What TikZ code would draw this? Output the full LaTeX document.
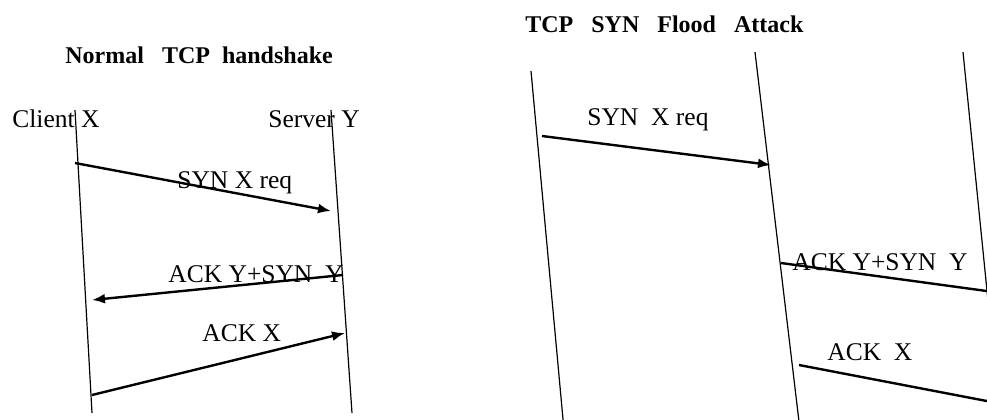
\documentclass[tikz,border=0pt]{standalone}
\usepackage{fontspec}
\setmainfont{Liberation Serif}
\usetikzlibrary{arrows.meta}

\begin{document}
\begin{tikzpicture}[x=0.5pt,y=-0.5pt,>={Latex[length=6.5pt,width=5pt]},
  life/.style={line width=0.6pt},
  msg/.style={line width=1.2pt},
  lbl/.style={anchor=base west,inner sep=0pt,font=\fontsize{12.75}{15}\selectfont},
  ttl/.style={anchor=base west,inner sep=0pt,font=\fontsize{12}{14}\selectfont\bfseries}]
\useasboundingbox (0,0) rectangle (987,419);
\clip (0,0) rectangle (987,419);
% normal handshake
\node[ttl] (titleNormal) at (65,63) {Normal\ \ \ TCP\ \ handshake};
\node[lbl] (lblClient) at (12,127) {Client X};
\node[lbl] (lblServer) at (268,127) {Server Y};
\coordinate (cliTop) at (75,110);
\coordinate (cliBot) at (92,413);
\coordinate (srvTop) at (331,110);
\coordinate (srvBot) at (352,413);
\draw[life] (cliTop) -- (cliBot);
\draw[life] (srvTop) -- (srvBot);
\coordinate (synFrom) at (75,163);
\coordinate (synTo) at (331,211);
\coordinate (ackSynFrom) at (343,275);
\coordinate (ackSynTo) at (92,300);
\coordinate (ackFrom) at (92,395);
\coordinate (ackTo) at (345,333);
\draw[msg,->] (synFrom) -- (synTo);
\draw[msg,->] (ackSynFrom) -- (ackSynTo);
\draw[msg,->] (ackFrom) -- (ackTo);
\node[lbl] (lblSyn) at (177,188) {SYN\ X req};
\node[lbl] (lblAckSyn) at (168,282) {ACK\ Y+SYN\ \ Y};
\node[lbl] (lblAck) at (202,341) {ACK\ X};
% syn flood
\node[ttl] (titleFlood) at (525,32) {TCP\ \ \ SYN\ \ \ Flood\ \ \ Attack};
\coordinate (attTop) at (531,71);
\coordinate (attBot) at (564,430);
\coordinate (vicTop) at (755,52);
\coordinate (vicBot) at (800,430);
\coordinate (farTop) at (963,52);
\coordinate (farBot) at (1001,430);
\draw[life] (attTop) -- (attBot);
\draw[life] (vicTop) -- (vicBot);
\draw[life] (farTop) -- (farBot);
\coordinate (fSynFrom) at (542,136);
\coordinate (fSynTo) at (771,165);
\coordinate (fAckSynFrom) at (781,263);
\coordinate (fAckSynTo) at (1005,293.5);
\coordinate (fAckFrom) at (799,365);
\coordinate (fAckTo) at (1005,404.5);
\draw[msg,->] (fSynFrom) -- (fSynTo);
\draw[msg] (fAckSynFrom) -- (fAckSynTo);
\draw[msg] (fAckFrom) -- (fAckTo);
\node[lbl] (lblFSyn) at (587,125) {SYN\ \ X req};
\node[lbl] (lblFAckSyn) at (792,270) {ACK Y+SYN\ \ Y};
\node[lbl] (lblFAck) at (827,360) {ACK\ \ X};
\end{tikzpicture}
\end{document}
